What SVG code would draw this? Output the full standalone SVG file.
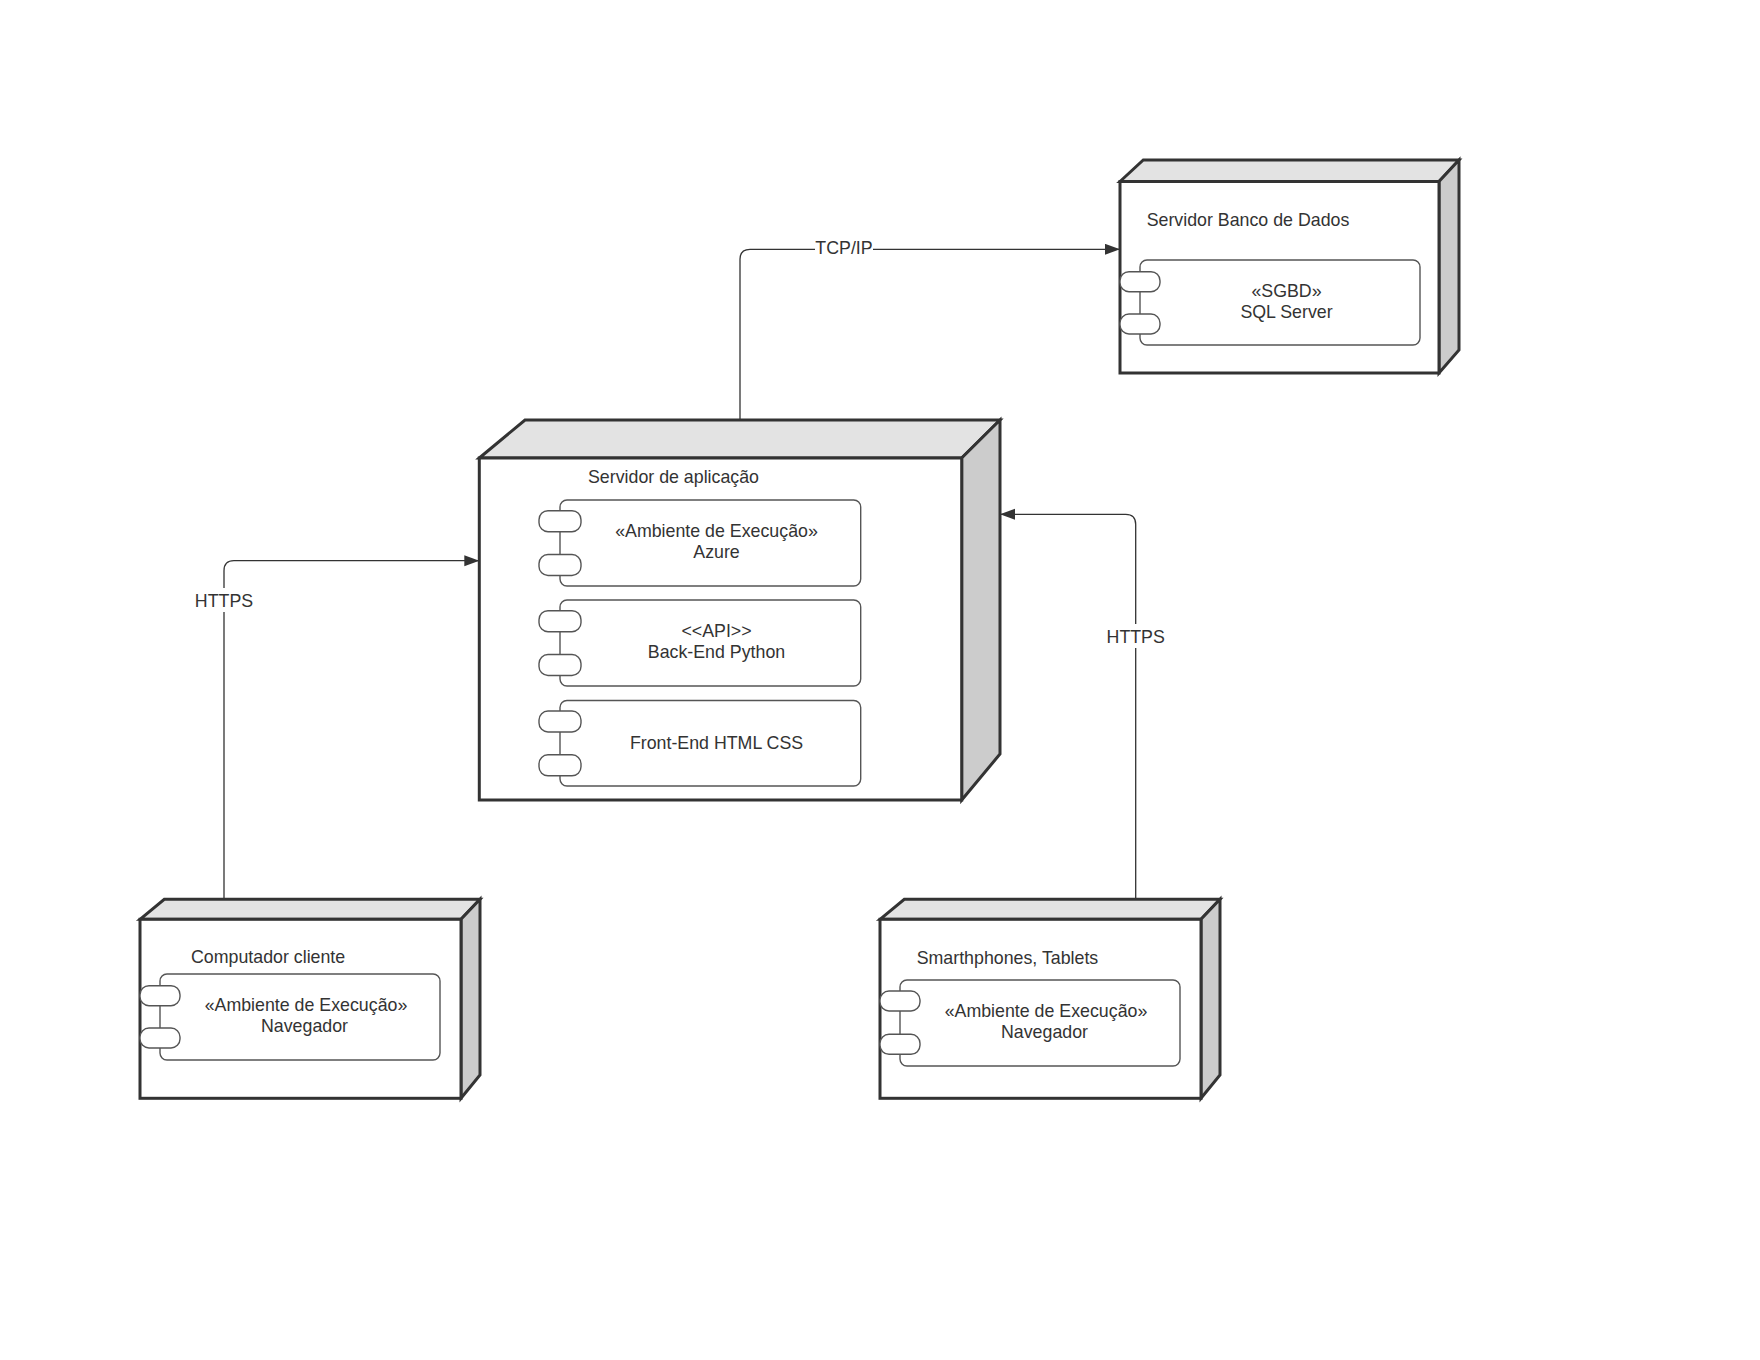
<svg xmlns="http://www.w3.org/2000/svg" width="1760" height="1360" viewBox="0 0 1760 1360">
  <style>
    .front { fill: #ffffff; stroke: #333333; stroke-width: 3; stroke-linejoin: miter; }
    .top { fill: #e3e3e3; stroke: #333333; stroke-width: 3; stroke-linejoin: miter; }
    .side { fill: #cccccc; stroke: #333333; stroke-width: 3; stroke-linejoin: miter; }
    .comp { fill: #ffffff; stroke: #555555; stroke-width: 1.4; }
    .port { fill: #ffffff; stroke: #555555; stroke-width: 1.4; }
    .lbl { font-family: "Liberation Sans", Arial, sans-serif; font-size: 17.8px; fill: #333333; }
    .mid { text-anchor: middle; }
    .wire { fill: none; stroke: #333333; stroke-width: 1.3; }
    .gap { fill: #ffffff; }
  </style>
  <defs>
    <marker id="arrow" markerUnits="userSpaceOnUse" markerWidth="16" markerHeight="12" refX="15" refY="5.5" orient="auto">
      <path d="M0,0 L15,5.5 L0,11 Z" fill="#333333"/>
    </marker>
  </defs>

  <rect x="0" y="0" width="1760" height="1360" fill="#ffffff"/>

  <!-- connectors -->
  <g id="connectors">
    <path class="wire" d="M740,420 V259.3 Q740,249.3 750,249.3 H1120" marker-end="url(#arrow)"/>
    <rect class="gap" x="815" y="238" width="58" height="20"/>
    <text class="lbl mid" x="844" y="253.5">TCP/IP</text>

    <path class="wire" d="M224,899.3 V570.7 Q224,560.7 234,560.7 H479.3" marker-end="url(#arrow)"/>
    <rect class="gap" x="194" y="588" width="60" height="24"/>
    <text class="lbl mid" x="224" y="606.5">HTTPS</text>

    <path class="wire" d="M1135.7,899.3 V524.3 Q1135.7,514.3 1125.7,514.3 H1000" marker-end="url(#arrow)"/>
    <rect class="gap" x="1105" y="624" width="61" height="24"/>
    <text class="lbl mid" x="1135.7" y="642.5">HTTPS</text>
  </g>

  <!-- database server -->
  <g id="node-db">
    <polygon class="top" points="1120,181.5 1143.3,160 1459,160 1439,181.5"/>
    <polygon class="side" points="1439,181.5 1459,160 1459,350 1439,373"/>
    <rect class="front" x="1120" y="181.5" width="319" height="191.5"/>
    <text class="lbl" x="1146.7" y="226">Servidor Banco de Dados</text>
    <g id="comp-sgbd">
      <rect class="comp" x="1140" y="260" width="280" height="85" rx="7" ry="7"/>
      <rect class="port" x="1120" y="271.7" width="40" height="20" rx="9" ry="9"/>
      <rect class="port" x="1120" y="314" width="40" height="20" rx="9" ry="9"/>
      <text class="lbl mid" x="1286.5" y="297">«SGBD»</text>
      <text class="lbl mid" x="1286.5" y="318">SQL Server</text>
    </g>
  </g>

  <!-- application server -->
  <g id="node-app">
    <polygon class="top" points="479.3,458 525,420 1000,420 961.7,458"/>
    <polygon class="side" points="961.7,458 1000,420 1000,754 961.7,800"/>
    <rect class="front" x="479.3" y="458" width="482.4" height="342"/>
    <text class="lbl" x="588" y="483">Servidor de aplicação</text>
    <g id="comp-azure">
      <rect class="comp" x="560" y="500" width="300.7" height="86" rx="7" ry="7"/>
      <rect class="port" x="539" y="510.7" width="42" height="21" rx="9" ry="9"/>
      <rect class="port" x="539" y="554.5" width="42" height="21" rx="9" ry="9"/>
      <text class="lbl mid" x="716.5" y="536.5">«Ambiente de Execução»</text>
      <text class="lbl mid" x="716.5" y="558">Azure</text>
    </g>
    <g id="comp-backend">
      <rect class="comp" x="560" y="600" width="300.7" height="86" rx="7" ry="7"/>
      <rect class="port" x="539" y="610.7" width="42" height="21" rx="9" ry="9"/>
      <rect class="port" x="539" y="654.5" width="42" height="21" rx="9" ry="9"/>
      <text class="lbl mid" x="716.5" y="636.5">&lt;&lt;API&gt;&gt;</text>
      <text class="lbl mid" x="716.5" y="658">Back-End Python</text>
    </g>
    <g id="comp-frontend">
      <rect class="comp" x="560" y="700.5" width="300.7" height="85.5" rx="7" ry="7"/>
      <rect class="port" x="539" y="711" width="42" height="21" rx="9" ry="9"/>
      <rect class="port" x="539" y="754.8" width="42" height="21" rx="9" ry="9"/>
      <text class="lbl mid" x="716.5" y="748.5">Front-End HTML CSS</text>
    </g>
  </g>

  <!-- client computer -->
  <g id="node-client">
    <polygon class="top" points="140,919.3 164.3,899.3 480,899.3 461,919.3"/>
    <polygon class="side" points="461,919.3 480,899.3 480,1075 461,1098.3"/>
    <rect class="front" x="140" y="919.3" width="321" height="179"/>
    <text class="lbl" x="191" y="962.5">Computador cliente</text>
    <g id="comp-client-browser">
      <rect class="comp" x="160" y="974" width="280" height="86" rx="7" ry="7"/>
      <rect class="port" x="140" y="985.7" width="40" height="20" rx="9" ry="9"/>
      <rect class="port" x="140" y="1028" width="40" height="20" rx="9" ry="9"/>
      <text class="lbl mid" x="306" y="1010.5">«Ambiente de Execução»</text>
      <text class="lbl mid" x="304.5" y="1031.5">Navegador</text>
    </g>
  </g>

  <!-- mobile devices -->
  <g id="node-mobile">
    <polygon class="top" points="880,919.3 904.3,899.3 1220,899.3 1201,919.3"/>
    <polygon class="side" points="1201,919.3 1220,899.3 1220,1075 1201,1098.3"/>
    <rect class="front" x="880" y="919.3" width="321" height="179"/>
    <text class="lbl" x="916.7" y="963.5">Smarthphones, Tablets</text>
    <g id="comp-mobile-browser">
      <rect class="comp" x="900" y="980" width="280" height="86" rx="7" ry="7"/>
      <rect class="port" x="880" y="991" width="40" height="20" rx="9" ry="9"/>
      <rect class="port" x="880" y="1034.3" width="40" height="20" rx="9" ry="9"/>
      <text class="lbl mid" x="1046" y="1016.5">«Ambiente de Execução»</text>
      <text class="lbl mid" x="1044.5" y="1038">Navegador</text>
    </g>
  </g>
</svg>
